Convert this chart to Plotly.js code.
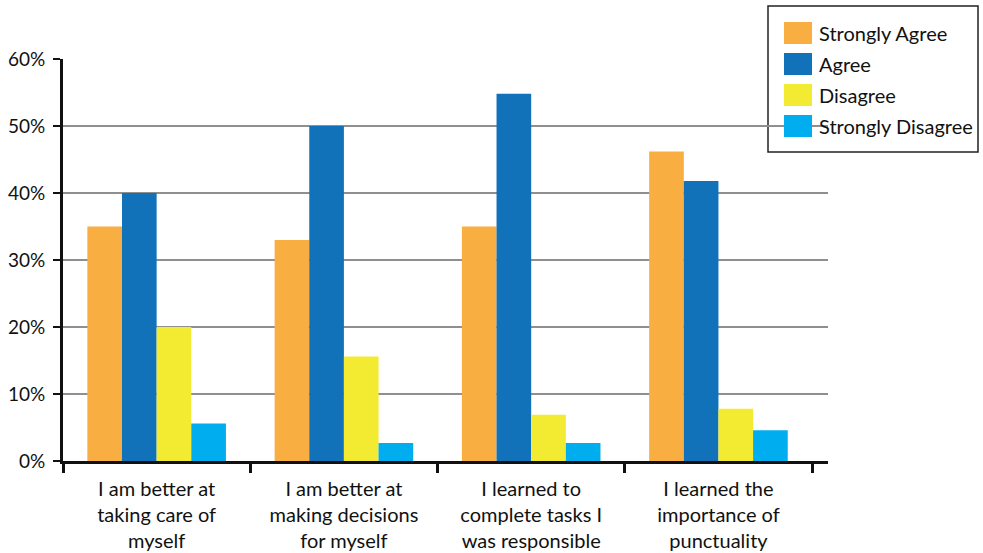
<!DOCTYPE html>
<html>
<head>
<meta charset="utf-8">
<script src="https://cdn.plot.ly/plotly-3.0.1.min.js"></script>
<style>
  html, body { margin: 0; padding: 0; background: #fff; }
  #chart { width: 983px; height: 553px; }
</style>
</head>
<body>
<div id="chart"></div>
<script>
// Survey statements (x categories)
const categories = [
  "I am better at<br>taking care of<br>myself",
  "I am better at<br>making decisions<br>for myself",
  "I learned to<br>complete tasks I<br>was responsible",
  "I learned the<br>importance of<br>punctuality"
];

// Response shares in percent, one array per answer
const stronglyAgree    = [35, 33, 35, 46.2];
const agree            = [40, 50, 54.8, 41.8];
const disagree         = [20, 15.6, 6.9, 7.8];
const stronglyDisagree = [5.6, 2.7, 2.7, 4.6];

const seriesNames  = ["Strongly Agree", "Agree", "Disagree", "Strongly Disagree"];
const seriesValues = [stronglyAgree, agree, disagree, stronglyDisagree];
const seriesColors = ["#F9AE42", "#1172BA", "#F3EB32", "#00AEEF"];

const yTickValues = [0, 10, 20, 30, 40, 50, 60];

const FONT = "Lato, 'Open Sans', sans-serif";
const TEXT = "#111";

const traces = seriesNames.map((name, i) => ({
  type: "bar",
  name: name,
  x: categories,
  y: seriesValues[i],
  marker: { color: seriesColors[i], line: { width: 0 } },
  hoverinfo: "x+y+name",
  showlegend: false
}));

// Plot-area geometry in pixels, used to place the boxed key in paper units
const W = 983, H = 553;
const M = { l: 63, r: 155, t: 59, b: 92 };
const plotW = W - M.l - M.r, plotH = H - M.t - M.b;
const px = x => (x - M.l) / plotW;
const py = y => (H - M.b - y) / plotH;

const shapes = [{
  type: "rect", xref: "paper", yref: "paper",
  x0: px(768), x1: px(978), y0: py(152), y1: py(6),
  line: { color: "#222", width: 1.5 }, fillcolor: "#fff", layer: "below"
}];
const annotations = [];
seriesNames.forEach((name, i) => {
  const cy = 33 + i * 31;
  shapes.push({
    type: "rect", xref: "paper", yref: "paper",
    x0: px(784), x1: px(812), y0: py(cy + 11), y1: py(cy - 11),
    line: { width: 0 }, fillcolor: seriesColors[i]
  });
  annotations.push({
    xref: "paper", yref: "paper", x: px(817), y: py(cy),
    xanchor: "left", yanchor: "middle", showarrow: false,
    text: name, font: { family: FONT, size: 20, color: TEXT }
  });
});

const layout = {
  width: W, height: H,
  margin: M,
  paper_bgcolor: "#fff", plot_bgcolor: "#fff",
  barmode: "group", bargap: 0.26, bargroupgap: 0,
  font: { family: FONT, size: 19, color: TEXT },
  xaxis: {
    type: "category",
    range: [-0.5, 3.585],
    tickson: "boundaries",
    ticks: "outside", ticklen: 9, tickwidth: 2.5, tickcolor: "#111",
    showline: true, linecolor: "#111", linewidth: 3,
    showgrid: false, zeroline: false,
    tickfont: { family: FONT, size: 20, color: TEXT },
    ticklabelstandoff: 8
  },
  yaxis: {
    range: [0, 60],
    tickvals: yTickValues,
    ticktext: yTickValues.map(v => v + "%"),
    ticks: "outside", ticklen: 7, tickwidth: 1.5, tickcolor: "#111",
    showline: true, linecolor: "#111", linewidth: 3,
    showgrid: true, gridcolor: "#8f8f8f", gridwidth: 1.5,
    zeroline: false,
    tickfont: { family: FONT, size: 19, color: TEXT },
    ticklabelstandoff: 4
  },
  shapes: shapes,
  annotations: annotations
};

Plotly.newPlot("chart", traces, layout, { displayModeBar: false, responsive: false });
</script>
</body>
</html>
